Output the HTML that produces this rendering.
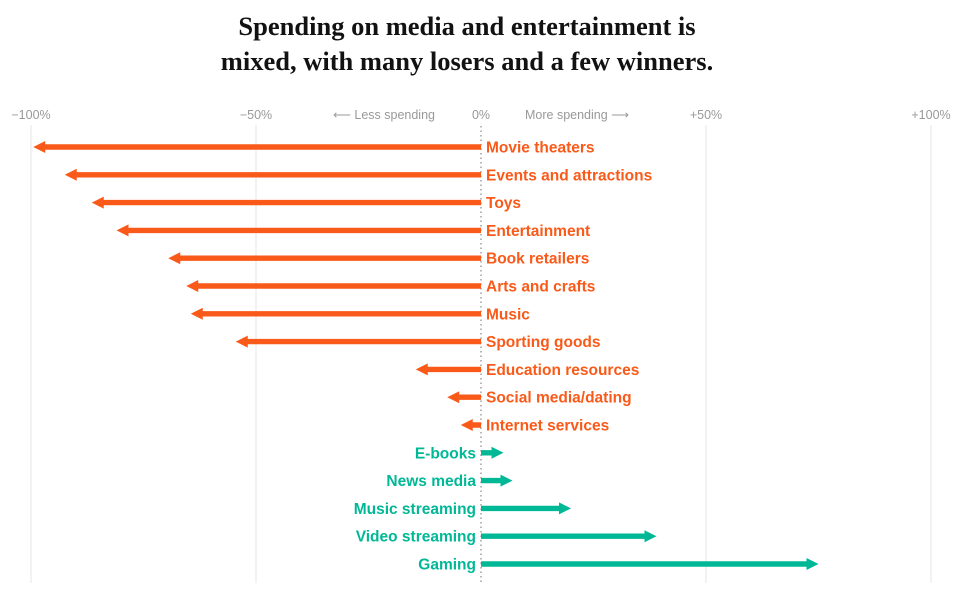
<!DOCTYPE html>
<html><head><meta charset="utf-8">
<style>
body{margin:0;background:#fff;width:964px;height:602px;overflow:hidden}
#title{position:absolute;left:0;top:9px;width:934px;text-align:center;font:bold 26.5px/35px "Liberation Serif",serif;color:#121212}
</style></head><body>
<div id="title">Spending on media and entertainment is<br>mixed, with many losers and a few winners.</div>
<svg id="chart" width="964" height="602" style="position:absolute;left:0;top:0"></svg>
<script>
const categories=["Movie theaters","Events and attractions","Toys","Entertainment","Book retailers","Arts and crafts","Music","Sporting goods","Education resources","Social media/dating","Internet services","E-books","News media","Music streaming","Video streaming","Gaming"];
const values=[-99.5,-92.5,-86.5,-81,-69.5,-65.5,-64.5,-54.5,-14.5,-7.5,-4.5,5,7,20,39,75];
const tickValues=[-100,-50,0,50,100];
const tickLabels=["\u2212100%","\u221250%","0%","+50%","+100%"];
const NS="http://www.w3.org/2000/svg";
const svg=document.getElementById('chart');
const x=v=>481+v*4.5;
const y=i=>147+i*27.8;
function mk(t,a){const e=document.createElementNS(NS,t);for(const k in a)e.setAttribute(k,a[k]);svg.appendChild(e);return e;}
tickValues.forEach((v,i)=>{
  if(v!==0){const g=mk('line',{x1:x(v),x2:x(v),y1:125,y2:583,stroke:'#e6e6e6','stroke-width':1});
  
  }
  const t=mk('text',{x:x(v),y:119,'text-anchor':'middle','font-family':'Liberation Sans, sans-serif','font-size':12.5,fill:'#999'});
  t.textContent=tickLabels[i];
  
  
});
const l1=mk('text',{x:435,y:119,'text-anchor':'end','font-family':'Liberation Sans, sans-serif','font-size':12.5,fill:'#999'});
l1.textContent="\u27F5 Less spending";


const l2=mk('text',{x:525,y:119,'font-family':'Liberation Sans, sans-serif','font-size':12.5,fill:'#999'});
l2.textContent="More spending \u27F6";


const zl=mk('line',{x1:481,x2:481,y1:126,y2:583,stroke:'#888','stroke-width':1.2,'stroke-dasharray':'1.5,3'});


categories.forEach((c,i)=>{
  const v=values[i],neg=v<0,col=neg?'#fa5a19':'#00b896';
  const yy=y(i),x0=x(0),x1=x(v),d=neg?1:-1;
  const head=12;
  const p=mk('path',{d:`M${x0},${yy-2.7}L${x1+d*head},${yy-2.7}L${x1+d*head},${yy-6}L${x1},${yy}L${x1+d*head},${yy+6}L${x1+d*head},${yy+2.7}L${x0},${yy+2.7}Z`,fill:col});
  
  
  const t=mk('text',{x:neg?486:476,y:yy+5.5,'text-anchor':neg?'start':'end','font-family':'Liberation Sans, sans-serif','font-size':15.5,'font-weight':'bold',fill:col});
  t.textContent=c;
  
  
});
</script>
</body></html>
